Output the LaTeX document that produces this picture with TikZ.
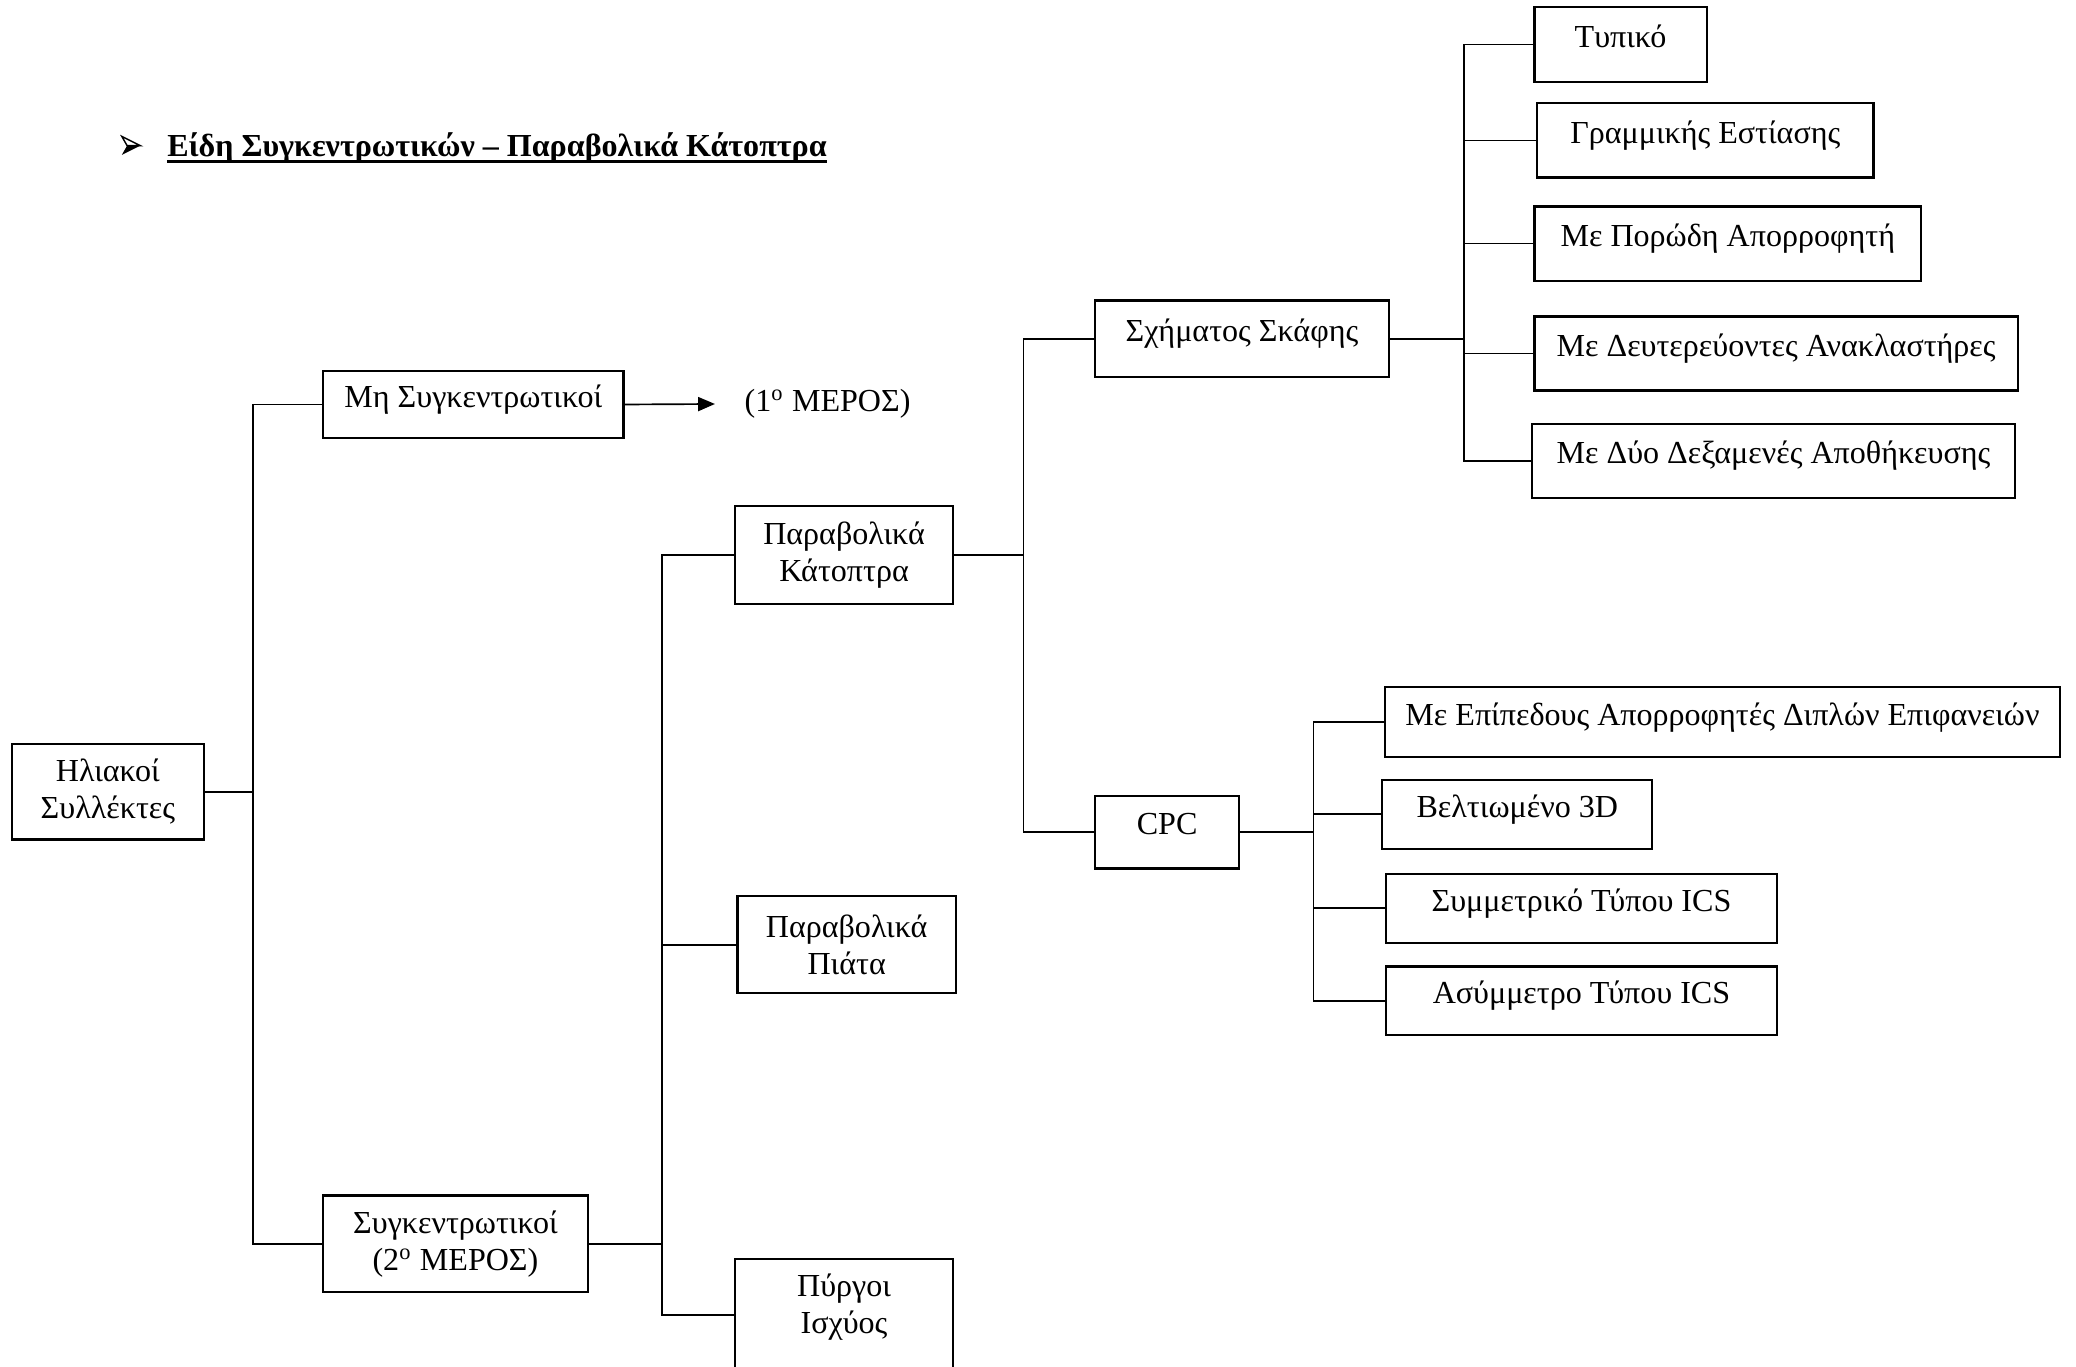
\documentclass[tikz,border=0pt]{standalone}
\usepackage{fontspec}
\setmainfont{Liberation Serif}
\usetikzlibrary{arrows.meta}
\begin{document}
\begin{tikzpicture}[x=0.4727pt,y=-0.4727pt,
  txt/.style={font=\fontsize{11.45}{13.2}\selectfont},
  box/.style 2 args={draw, line width=0.8pt, txt, align=center, inner sep=0pt,
    minimum width=#1*0.4727pt, minimum height=#2*0.4727pt},
  one/.style={text height=8pt, text depth=6pt},
  link/.style={line width=0.6pt},
]
\useasboundingbox (0,0) rectangle (1568,1032);
\clip (0,0) rectangle (1568,1032);

% heading with arrowhead bullet
\fill (96,110) -- (106,110) -- (92,117) -- cycle;
\draw[line width=0.5pt, fill=white, line join=miter] (92,103) -- (106,110) -- (96,110) -- cycle;
\node[anchor=base west, inner sep=0pt, font=\bfseries\fontsize{11.45}{14}\selectfont] (title) at (126,118)
  {Είδη Συγκεντρωτικών – Παραβολικά Κάτοπτρα};
\draw[line width=1.1pt] ([yshift=-2pt]title.base west) -- ([yshift=-2pt]title.base east);

% first level
\node[box={145}{72}] (hs) at (81.5,598) {Ηλιακοί\\Συλλέκτες};
\node[box={227}{51}, one] (mh) at (357.5,305.5) {Μη Συγκεντρωτικοί};
\node[anchor=west, inner sep=0pt, txt] (m1) at (562,305) {(1\textsuperscript{o} ΜΕΡΟΣ)};
\node[box={200}{73}] (syg) at (344,939.5) {Συγκεντρωτικοί\\(2\textsuperscript{o} ΜΕΡΟΣ)};

% concentrating collectors
\node[box={165}{74}] (pk) at (637.5,419) {Παραβολικά\\Κάτοπτρα};
\node[box={165}{73}] (pp) at (639.5,713.5) {Παραβολικά\\Πιάτα};
\node[box={165}{110}, anchor=north] (pyr) at (637.5,950) {};
\node[inner sep=0pt, align=center, txt] (pyrt) at (637.5,987) {Πύργοι\\Ισχύος};
\coordinate (pyrin) at (555,993);

% parabolic mirrors
\node[box={222}{58}, one] (sx) at (938,256) {Σχήματος Σκάφης};
\node[box={109}{55}, one] (cpc) at (881.5,628.5) {CPC};

% trough types
\node[box={130}{57}, one] (typ) at (1224,33.5) {Τυπικό};
\node[box={254}{56}, one] (gram) at (1288,106) {Γραμμικής Εστίασης};
\node[box={292}{56}, one] (por) at (1305,184) {Με Πορώδη Απορροφητή};
\node[box={365}{56}, one] (deut) at (1341.5,267) {Με Δευτερεύοντες Ανακλαστήρες};
\node[box={365}{56}, one] (dyo) at (1339.5,348) {Με Δύο Δεξαμενές Αποθήκευσης};

% CPC types
\node[box={510}{53}, one] (epi) at (1301,545.5) {Με Επίπεδους Απορροφητές Διπλών Επιφανειών};
\node[box={204}{52}, one] (belt) at (1146,615) {Βελτιωμένο 3D};
\node[box={295}{52}, one] (symm) at (1194.5,686) {Συμμετρικό Τύπου ICS};
\node[box={295}{52}, one] (asym) at (1194.5,756) {Ασύμμετρο Τύπου ICS};

% bus junctions
\coordinate (j1) at (191,598);
\coordinate (j2) at (500,939.5);
\coordinate (j3) at (773,419);
\coordinate (j4) at (1106,256);
\coordinate (j5) at (992,628.5);

% connectors
\draw[link] (hs.east) -- (j1) |- (mh.west);
\draw[link] (j1) |- (syg.west);
\draw[link, -{Triangle[length=6pt,width=5pt]}, shorten >=10.4pt] (mh.east) -- (m1.west);

\draw[link] (syg.east) -- (j2) |- (pk.west);
\draw[link] (j2) |- (pp.west);
\draw[link] (j2) |- (pyrin);

\draw[link] (pk.east) -- (j3) |- (sx.west);
\draw[link] (j3) |- (cpc.west);

\draw[link] (sx.east) -- (j4) |- (typ.west);
\draw[link] (j4) |- (gram.west);
\draw[link] (j4) |- (por.west);
\draw[link] (j4) |- (deut.west);
\draw[link] (j4) |- (dyo.west);

\draw[link] (cpc.east) -- (j5) |- (epi.west);
\draw[link] (j5) |- (belt.west);
\draw[link] (j5) |- (symm.west);
\draw[link] (j5) |- (asym.west);
\end{tikzpicture}
\end{document}
